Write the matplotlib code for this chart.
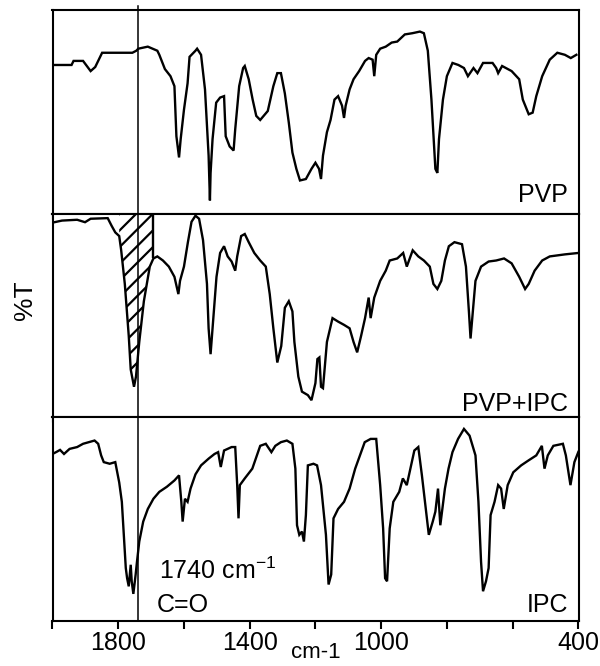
import numpy as np
import matplotlib
matplotlib.use("Agg")
import matplotlib.pyplot as plt

plt.rcParams['font.family'] = ['Liberation Sans', 'DejaVu Sans']
plt.rcParams['mathtext.default'] = 'regular'
plt.rcParams['hatch.linewidth'] = 1.6

# spectra: wavenumber (cm-1) and %T (0 = panel bottom, 100 = panel top)
pvp_wn = [2000, 1942, 1936, 1907, 1884, 1870, 1849, 1757, 1745, 1739, 1710, 1681, 1675, 1658,
          1641, 1629, 1623, 1615, 1610, 1600, 1589, 1583, 1565, 1560, 1548, 1536, 1525, 1521,
          1519, 1513, 1502, 1490, 1478, 1473, 1461, 1449, 1444, 1432, 1420, 1415, 1403, 1391,
          1380, 1368, 1345, 1328, 1316, 1305, 1293, 1281, 1270, 1258, 1247, 1229, 1212, 1200,
          1189, 1183, 1177, 1165, 1154, 1142, 1131, 1119, 1113, 1108, 1096, 1084, 1067, 1049,
          1038, 1026, 1021, 1015, 1003, 986, 968, 951, 928, 905, 882, 870, 858, 847, 835, 829,
          824, 812, 800, 783, 765, 748, 736, 719, 707, 690, 661, 650, 644, 632, 603, 580, 569,
          551, 539, 528, 510, 487, 464, 441, 423, 406]
pvp_t = [73, 73, 75, 75, 70, 72, 79, 79, 80, 81, 82, 80, 78, 71,
         67.5, 62.6, 38, 27.6, 36.6, 51, 64, 77, 80, 81, 78, 61, 28.5, 6.5,
         20, 36.6, 54.5, 57, 57.7, 38, 33, 31, 41.5, 62.6, 71.5, 72.5, 66, 56,
         48, 46, 50.4, 62.6, 69, 69, 59, 44.7, 30, 22, 16.3, 17, 22, 25,
         22, 17, 28.5, 40, 46, 56, 57.7, 53, 47, 53, 61, 66, 70, 75,
         76.4, 75.6, 67.5, 78, 81, 82, 84, 84.5, 88, 88.6, 89.4, 88.6, 80, 56, 22, 20,
         36.6, 56, 67.5, 74, 73, 71.5, 67.5, 71.5, 69, 74, 74, 71.5, 69, 72.5, 70, 66, 56,
         48.8, 49.6, 57.7, 67.5, 75.6, 79, 78, 76.4, 78]

mix_wn = [1994, 1971, 1925, 1901, 1884, 1832, 1820, 1809, 1797, 1791, 1780, 1768, 1762, 1752,
          1746, 1736, 1722, 1704, 1693, 1681, 1664, 1646, 1629, 1617, 1612, 1600, 1588, 1577,
          1565, 1554, 1542, 1530, 1525, 1519, 1513, 1501, 1490, 1478, 1467, 1455, 1444, 1438,
          1426, 1415, 1403, 1386, 1368, 1351, 1339, 1328, 1316, 1304, 1293, 1281, 1270, 1264,
          1252, 1241, 1223, 1212, 1200, 1194, 1188, 1183, 1177, 1165, 1148, 1131, 1113, 1096,
          1084, 1073, 1061, 1049, 1038, 1032, 1021, 1003, 986, 974, 951, 933, 922, 904, 887,
          870, 852, 841, 829, 817, 806, 794, 777, 754, 742, 733, 728, 721, 713, 696, 673, 650,
          626, 603, 580, 562, 551, 533, 510, 487, 441, 400]
mix_t = [95.8, 96.6, 97, 95.8, 97.5, 97.8, 94, 90.8, 89, 82, 65.5, 40, 23.5, 15,
         20, 37, 57, 74, 78, 79, 77, 74, 69, 60.5, 67, 74, 86, 96,
         99, 97.5, 87, 65.5, 43.7, 31, 43.7, 69, 80.7, 84, 79, 76.5, 72, 79,
         89, 90, 86, 80.7, 77, 74, 60.5, 43.7, 26.9, 35, 53.8, 57, 52, 37,
         20, 12.6, 10.9, 8.4, 16.8, 28.6, 29.4, 15, 14.3, 37, 48.7, 47, 45.4, 43.7,
         37, 31.9, 40, 48.7, 58.8, 48.7, 58.8, 67, 72, 77, 78, 80.7, 74, 82, 79,
         77, 74, 65.5, 63, 67, 77, 84, 86, 85, 74, 52, 38.7, 52, 67, 74, 76.5, 77,
         78, 75.6, 69, 63, 65.5, 72, 77, 79, 80, 80.7]

ipc_wn = [2000, 1988, 1977, 1965, 1948, 1925, 1907, 1890, 1872, 1861, 1852, 1844, 1826, 1809,
          1803, 1797, 1789, 1782, 1777, 1773, 1768, 1762, 1759, 1754, 1747, 1743, 1736, 1724,
          1710, 1693, 1675, 1652, 1629, 1615, 1608, 1604, 1597, 1589, 1580, 1565, 1548, 1525,
          1507, 1496, 1488, 1478, 1455, 1444, 1438, 1434, 1430, 1415, 1392, 1368, 1351, 1334,
          1322, 1305, 1287, 1270, 1261, 1256, 1249, 1241, 1235, 1229, 1223, 1206, 1195, 1183,
          1168, 1160, 1152, 1145, 1131, 1113, 1096, 1079, 1061, 1050, 1032, 1015, 1003, 994,
          988, 982, 974, 963, 945, 934, 922, 911, 899, 887, 876, 864, 855, 843, 835, 827, 820,
          806, 795, 783, 766, 748, 731, 713, 704, 696, 690, 681, 673, 667, 655, 644, 635, 627,
          615, 598, 574, 551, 528, 511, 503, 493, 476, 447, 438, 424, 412, 400]
ipc_t = [82, 83, 84, 82, 84.5, 85.4, 87, 87.8, 88.6, 87, 81.3, 78, 77.2, 78,
         73, 68, 58.5, 39, 26, 21, 17, 27.6, 19.5, 13.3, 22.8, 29, 39, 48.8,
         55, 60, 63.4, 65.9, 69, 71.5, 58.5, 48.8, 60, 58.5, 65, 72, 76.4, 79.7,
         82, 82.9, 75.6, 83.7, 85.4, 85.4, 66.7, 50.4, 66.7, 70, 74.8, 86, 87, 82.9,
         86, 87.8, 88.6, 87, 74.8, 47, 42.3, 43.9, 39, 52, 76.4, 77.2, 76.4, 66.7,
         42.3, 17.9, 22.8, 50.4, 55, 58.5, 65, 74.8, 82.9, 87.8, 89.4, 89.4, 66.7, 45.5,
         21, 19.5, 45.5, 58.5, 63.4, 70, 66.7, 74.8, 83.7, 85.4, 71.5, 55, 42.3, 48.8, 53.7, 65, 47,
         65, 74.8, 82.9, 89.4, 94.3, 91, 81.3, 58.5, 29, 14.6, 19.5, 26, 52, 58.5, 66.7, 65, 55,
         66.7, 73, 76.4, 78.9, 81.3, 86, 74.8, 81.3, 86, 87, 81.3, 66.7, 78, 83]

panels = [(pvp_wn, pvp_t, 'PVP', 0.055),
          (mix_wn, mix_t, 'PVP+IPC', 0.03),
          (ipc_wn, ipc_t, 'IPC', 0.045)]

carbonyl = 1740          # C=O band marked by the vertical line
hatch_range = (1800, 1693)   # integrated C=O area in the blend
tick_pos = np.arange(2000, 399, -200)
tick_lab = ['', '1800', '', '1400', '', '1000', '', '', '400']

fig, axes = plt.subplots(3, 1, figsize=(6, 6.66), dpi=100, sharex=True,
                         gridspec_kw={'hspace': 0})
fig.subplots_adjust(left=0.0875, right=0.965, bottom=0.0676, top=0.985)

for ax, (wn, t, name, ly) in zip(axes, panels):
    ax.plot(wn, t, color='black', lw=1.7, solid_joinstyle='miter')
    ax.axvline(carbonyl, color='black', lw=1.1)
    ax.set_ylim(0, 100)
    ax.set_yticks([])
    for s in ax.spines.values():
        s.set_linewidth(1.5)
    ax.text(0.979, ly, name, transform=ax.transAxes, ha='right', va='baseline', fontsize=18)

# hatched carbonyl area in the PVP+IPC trace
ax = axes[1]
w = np.array(mix_wn, dtype=float)
v = np.array(mix_t, dtype=float)
m = (w <= hatch_range[0]) & (w >= hatch_range[1])
ax.fill_between(w[m], v[m], 100, facecolor='none', edgecolor='black', hatch='//', lw=0)
ax.vlines(hatch_range[1], np.interp(hatch_range[1], w[::-1], v[::-1]), 100, color='black', lw=1.7)

axes[0].plot([carbonyl, carbonyl], [100, 102], color='black', lw=1.1, clip_on=False)

ax = axes[2]
ax.set_xlim(1995, 398)
ax.set_xticks(tick_pos)
ax.set_xticklabels(tick_lab, fontsize=18)
ax.tick_params(axis='x', direction='out', length=6, width=1.5, pad=1)
ax.set_xlabel('cm-1', fontsize=16, labelpad=-9)
ax.text(0.202, 0.208, '1740 cm$^{-1}$', transform=ax.transAxes, fontsize=18, va='baseline')
ax.text(0.198, 0.043, 'C=O', transform=ax.transAxes, fontsize=18, va='baseline')

fig.text(0.042, 0.55, '%T', rotation=90, ha='center', va='center', fontsize=19)

fig.savefig('out.png', dpi=100)
